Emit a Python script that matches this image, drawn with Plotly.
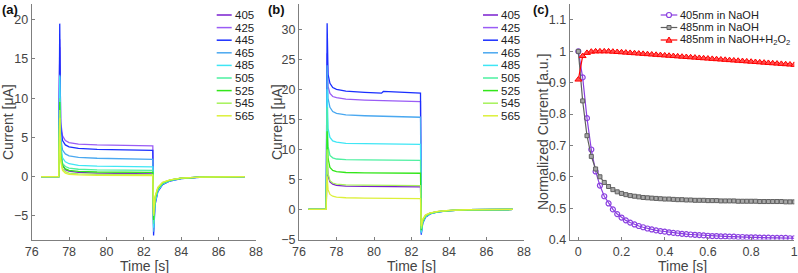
import plotly.graph_objects as go

# ---------------- data ----------------
wavelengths = ["405", "425", "445", "465", "485", "505", "525", "545", "565"]
colors = ["#7a1fcf", "#9a5cf5", "#1a2fff", "#4aa8f0", "#3fe6f5",
          "#4df0a0", "#33e61a", "#a6f25a", "#ddf03a"]

time_s = [76.5, 77.45, 77.5, 77.55, 77.65, 77.8, 78.0, 78.5, 79.5, 80.4, 80.5,
          81.0, 82.48, 82.52, 82.6, 82.75, 83.0, 83.4, 84.0, 85.0, 87.4]

current_a = {
    "405": [0, 0, 16.5, 3.5, 1.5, 0.9, 0.7, 0.55, 0.45, 0.42, 0.41, 0.4, 0.35, -5.5, -2.8, -1.5, -0.85, -0.45, -0.2, -0.05, 0],
    "425": [0, 0, 17.5, 7.0, 5.2, 4.6, 4.35, 4.15, 4.05, 4.0, 3.99, 3.97, 3.92, -6.2, -3.2, -1.7, -0.95, -0.5, -0.22, -0.06, 0],
    "445": [0, 0, 19.5, 6.5, 4.6, 4.05, 3.8, 3.6, 3.48, 3.42, 3.41, 3.4, 3.35, -7.5, -3.6, -1.9, -1.0, -0.55, -0.25, -0.07, 0],
    "465": [0, 0, 13.0, 5.0, 3.4, 2.9, 2.65, 2.45, 2.35, 2.3, 2.29, 2.28, 2.22, -7.0, -3.4, -1.8, -0.95, -0.5, -0.23, -0.06, 0],
    "485": [0, 0, 12.8, 4.2, 2.4, 1.9, 1.65, 1.45, 1.35, 1.3, 1.29, 1.28, 1.25, -6.5, -3.2, -1.7, -0.9, -0.5, -0.22, -0.06, 0],
    "505": [0, 0, 10.0, 3.2, 1.7, 1.3, 1.1, 0.95, 0.87, 0.83, 0.83, 0.82, 0.8, -6.0, -3.0, -1.6, -0.85, -0.45, -0.2, -0.05, 0],
    "525": [0, 0, 9.5, 2.8, 1.4, 1.0, 0.8, 0.68, 0.6, 0.58, 0.58, 0.57, 0.55, -5.5, -2.8, -1.5, -0.8, -0.45, -0.2, -0.05, 0],
    "545": [0, 0, 8.5, 2.3, 1.0, 0.65, 0.45, 0.35, 0.3, 0.28, 0.28, 0.27, 0.25, -5.0, -2.6, -1.4, -0.75, -0.4, -0.18, -0.05, 0],
    "565": [0, 0, 7.5, 2.0, 0.8, 0.45, 0.3, 0.22, 0.18, 0.17, 0.17, 0.16, 0.15, -4.8, -2.5, -1.35, -0.7, -0.4, -0.18, -0.05, 0],
}

current_b = {
    "405": [0, 0, 8.0, 5.6, 4.6, 4.2, 4.0, 3.9, 3.85, 3.82, 3.81, 3.8, 3.75, -3.0, -1.8, -1.0, -0.6, -0.35, -0.18, -0.05, 0],
    "425": [0, 0, 26.0, 20.5, 19.3, 18.8, 18.6, 18.35, 18.2, 18.1, 18.08, 18.05, 17.95, -3.8, -2.1, -1.2, -0.7, -0.4, -0.2, -0.05, 0],
    "445": [0, 0, 31.0, 22.5, 21.0, 20.3, 20.0, 19.7, 19.5, 19.35, 19.65, 19.6, 19.35, -4.2, -2.3, -1.3, -0.75, -0.42, -0.2, -0.05, 0],
    "465": [0, 0, 24.0, 18.5, 17.0, 16.3, 16.0, 15.75, 15.6, 15.5, 15.48, 15.45, 15.35, -4.0, -2.2, -1.2, -0.7, -0.4, -0.2, -0.05, 0],
    "485": [0, 0, 20.0, 13.5, 12.0, 11.4, 11.2, 11.0, 10.95, 10.9, 10.9, 10.88, 10.85, -3.8, -2.1, -1.15, -0.68, -0.4, -0.2, -0.05, 0],
    "505": [0, 0, 17.0, 10.5, 9.0, 8.6, 8.4, 8.3, 8.25, 8.22, 8.21, 8.2, 8.18, -3.6, -2.0, -1.1, -0.65, -0.38, -0.18, -0.05, 0],
    "525": [0, 0, 13.0, 8.5, 7.0, 6.5, 6.3, 6.15, 6.1, 6.07, 6.06, 6.05, 6.03, -3.4, -1.9, -1.05, -0.62, -0.36, -0.18, -0.05, 0],
    "545": [0, 0, 10.0, 6.0, 4.8, 4.4, 4.2, 4.1, 4.05, 4.02, 4.01, 4.0, 3.98, -3.2, -1.8, -1.0, -0.6, -0.35, -0.17, -0.05, 0],
    "565": [0, 0, 5.5, 3.3, 2.5, 2.2, 2.05, 1.95, 1.9, 1.87, 1.86, 1.85, 1.82, -2.8, -1.6, -0.9, -0.55, -0.32, -0.16, -0.04, 0],
}

time_c = [0.00, 0.02, 0.04, 0.06, 0.08, 0.10, 0.12, 0.14, 0.16, 0.18,
          0.20, 0.22, 0.24, 0.26, 0.28, 0.30, 0.32, 0.34, 0.36, 0.38,
          0.40, 0.42, 0.44, 0.46, 0.48, 0.50, 0.52, 0.54, 0.56, 0.58,
          0.60, 0.62, 0.64, 0.66, 0.68, 0.70, 0.72, 0.74, 0.76, 0.78,
          0.80, 0.82, 0.84, 0.86, 0.88, 0.90, 0.92, 0.94, 0.96, 0.98, 1.00]

norm_405_naoh = [1.000, 0.917, 0.787, 0.687, 0.617, 0.572, 0.538, 0.515, 0.496, 0.481,
                 0.470, 0.461, 0.454, 0.448, 0.443, 0.439, 0.435, 0.432, 0.429, 0.427,
                 0.425, 0.423, 0.421, 0.420, 0.418, 0.417, 0.416, 0.415, 0.414, 0.413,
                 0.412, 0.411, 0.411, 0.410, 0.410, 0.409, 0.409, 0.408, 0.408, 0.407,
                 0.407, 0.407, 0.406, 0.406, 0.406, 0.405, 0.405, 0.405, 0.405, 0.404, 0.404]

norm_485_naoh = [1.000, 0.842, 0.731, 0.665, 0.625, 0.600, 0.582, 0.569, 0.559, 0.552,
                 0.547, 0.543, 0.540, 0.538, 0.536, 0.534, 0.533, 0.532, 0.531, 0.530,
                 0.529, 0.529, 0.528, 0.527, 0.527, 0.526, 0.526, 0.525, 0.525, 0.525,
                 0.524, 0.524, 0.524, 0.523, 0.523, 0.523, 0.523, 0.522, 0.522, 0.522,
                 0.522, 0.522, 0.521, 0.521, 0.521, 0.521, 0.521, 0.521, 0.520, 0.520, 0.520]

norm_485_h2o2 = [0.910, 0.985, 0.995, 0.999, 1.000, 1.000, 1.000, 1.000, 0.999, 0.998,
                 0.997, 0.996, 0.995, 0.994, 0.993, 0.992, 0.991, 0.990, 0.989, 0.988,
                 0.987, 0.986, 0.985, 0.984, 0.983, 0.982, 0.981, 0.980, 0.979, 0.978,
                 0.977, 0.976, 0.975, 0.974, 0.973, 0.972, 0.971, 0.970, 0.969, 0.968,
                 0.967, 0.966, 0.965, 0.964, 0.963, 0.962, 0.961, 0.960, 0.959, 0.958, 0.957]

series_c_names = ["405nm in NaOH", "485nm in NaOH", "485nm in NaOH+H<sub>2</sub>O<sub>2</sub>"]

# ---------------- figure ----------------
W, H = 798, 273
FONT = "Liberation Sans, Arial, Helvetica, sans-serif"
TXT = "#444444"
AX = "#7f7f7f"


def px_x(p):
    return p / W


def px_y(p):
    return 1 - p / H


fig = go.Figure()

for wl, col in zip(wavelengths, colors):
    fig.add_trace(go.Scatter(x=time_s, y=current_a[wl], mode="lines",
                             line=dict(color=col, width=1.3),
                             xaxis="x", yaxis="y", showlegend=False))
for wl, col in zip(wavelengths, colors):
    fig.add_trace(go.Scatter(x=time_s, y=current_b[wl], mode="lines",
                             line=dict(color=col, width=1.3),
                             xaxis="x2", yaxis="y2", showlegend=False))

c_styles = [
    dict(line=dict(color="#8a3fe0", width=1.2),
         marker=dict(symbol="circle-open", size=5, color="#8a3fe0", line=dict(width=1.2))),
    dict(line=dict(color="#606060", width=1.2),
         marker=dict(symbol="square", size=4, color="#a8a8a8", line=dict(color="#606060", width=1))),
    dict(line=dict(color="#ff0000", width=1.2),
         marker=dict(symbol="triangle-up", size=6, color="#ff5050", line=dict(color="#ff0000", width=1))),
]
c_data = [norm_405_naoh, norm_485_naoh, norm_485_h2o2]
for vals, st in zip(c_data, c_styles):
    fig.add_trace(go.Scatter(x=time_c, y=vals, mode="lines+markers",
                             line=st["line"], marker=st["marker"],
                             xaxis="x3", yaxis="y3", showlegend=False))

ydom = [px_y(239.5), px_y(4)]
common = dict(showline=True, linecolor=AX, linewidth=1, ticks="inside", ticklen=3,
              tickcolor=AX, showgrid=False, zeroline=False, mirror=False,
              tickfont=dict(family=FONT, size=12.5, color=TXT), automargin=False,
              ticklabeloverflow="allow")

fig.update_layout(
    width=W, height=H, margin=dict(l=0, r=0, t=0, b=0),
    paper_bgcolor="white", plot_bgcolor="white", hovermode=False,
    font=dict(family=FONT, color=TXT),
    xaxis=dict(domain=[px_x(31.7), px_x(256)], range=[76, 88], dtick=2, anchor="y", **common),
    yaxis=dict(domain=ydom, range=[-8, 22], dtick=5, anchor="x", **common),
    xaxis2=dict(domain=[px_x(299), px_x(524)], range=[76, 88], dtick=2, anchor="y2", **common),
    yaxis2=dict(domain=ydom, range=[-5, 34.2], dtick=5, anchor="x2", **common),
    xaxis3=dict(domain=[px_x(569.7), px_x(794.3)], range=[-0.04, 1], dtick=0.2, anchor="y3", **common),
    yaxis3=dict(domain=ydom, range=[0.4, 1.151], dtick=0.1, anchor="x3", **common),
)

annotations = []
shapes = []

# panel labels
for lab, xp in [("(a)", 0), ("(b)", 266), ("(c)", 531)]:
    annotations.append(dict(text="<b>" + lab + "</b>", x=px_x(xp), y=px_y(0), xref="paper", yref="paper",
                            xanchor="left", yanchor="top", showarrow=False,
                            font=dict(family=FONT, size=13, color="#111111")))

# axis titles
for cx in [144, 411, 682]:
    annotations.append(dict(text="Time [s]", x=px_x(cx), y=px_y(266), xref="paper", yref="paper",
                            xanchor="center", yanchor="middle", showarrow=False,
                            font=dict(family=FONT, size=14, color=TXT)))
for cx, cy, t in [(8, 122, "Current [μA]"), (277, 122, "Current [μA]"),
                  (543, 132, "Normalized Current [a.u.]")]:
    annotations.append(dict(text=t, x=px_x(cx), y=px_y(cy), xref="paper", yref="paper",
                            xanchor="center", yanchor="middle", showarrow=False, textangle=-90,
                            font=dict(family=FONT, size=14, color=TXT)))

# manual legends (a) and (b)
for lx0, lx1, tx in [(216.7, 231.7, 233), (483, 498, 499)]:
    for i, (wl, col) in enumerate(zip(wavelengths, colors)):
        yy = 15 + 12.6 * i
        shapes.append(dict(type="line", xref="paper", yref="paper",
                           x0=px_x(lx0), x1=px_x(lx1), y0=px_y(yy), y1=px_y(yy),
                           line=dict(color=col, width=1.5)))
        annotations.append(dict(text=wl, x=px_x(tx), y=px_y(yy), xref="paper", yref="paper",
                                xanchor="left", yanchor="middle", showarrow=False,
                                font=dict(family=FONT, size=11.5, color="#222222")))

# legend (c)
for i, (name, st) in enumerate(zip(series_c_names, c_styles)):
    yy = 15 + 12.5 * i
    col = st["line"]["color"]
    shapes.append(dict(type="line", xref="paper", yref="paper",
                       x0=px_x(660.7), x1=px_x(677.3), y0=px_y(yy), y1=px_y(yy),
                       line=dict(color=col, width=1.2)))
    mx, my = px_x(669), px_y(yy)
    if i == 0:
        shapes.append(dict(type="circle", xref="paper", yref="paper", xsizemode="pixel", ysizemode="pixel",
                           xanchor=mx, yanchor=my, x0=-2.5, x1=2.5, y0=-2.5, y1=2.5,
                           line=dict(color=col, width=1.2), fillcolor="white"))
    elif i == 1:
        shapes.append(dict(type="rect", xref="paper", yref="paper", xsizemode="pixel", ysizemode="pixel",
                           xanchor=mx, yanchor=my, x0=-2, x1=2, y0=-2, y1=2,
                           line=dict(color=col, width=1), fillcolor="#a8a8a8"))
    else:
        shapes.append(dict(type="path", xref="paper", yref="paper", xsizemode="pixel", ysizemode="pixel",
                           xanchor=mx, yanchor=my, path="M-3,-2.2 L3,-2.2 L0,3 Z",
                           line=dict(color=col, width=1), fillcolor="#ff5050"))
    annotations.append(dict(text=name, x=px_x(678), y=px_y(yy), xref="paper", yref="paper",
                            xanchor="left", yanchor="middle", showarrow=False,
                            font=dict(family=FONT, size=11, color="#222222")))

fig.update_layout(annotations=annotations, shapes=shapes)
fig.write_html("out.html")
